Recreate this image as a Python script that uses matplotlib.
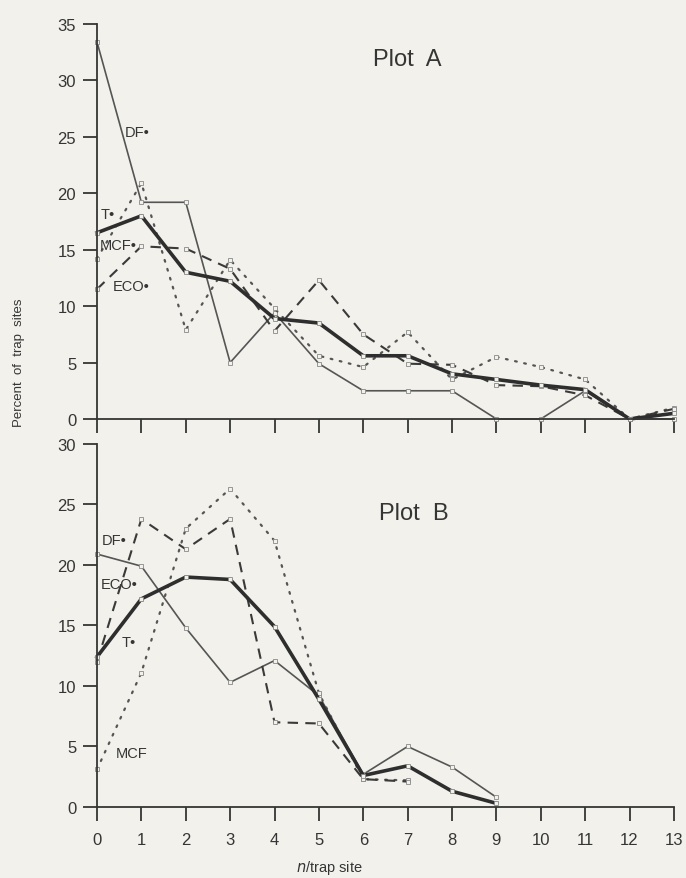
import matplotlib
matplotlib.use('Agg')
import matplotlib.pyplot as plt

plt.rcParams['font.family'] = ['Liberation Sans', 'DejaVu Sans']

x_a = list(range(14))
df_a = [33.4, 19.2, 19.2, 5.0, 9.4, 4.9, 2.5, 2.5, 2.5, 0, 0, 2.5, 0, 0]
t_a = [16.5, 18.0, 13.0, 12.2, 8.9, 8.5, 5.6, 5.6, 4.0, 3.5, 3.0, 2.6, 0, 0.5]
mcf_a = [14.2, 20.9, 7.9, 14.1, 9.8, 5.6, 4.6, 7.7, 3.5, 5.5, 4.6, 3.5, 0, 1.0]
eco_a = [11.5, 15.3, 15.1, 13.3, 7.8, 12.3, 7.5, 4.9, 4.8, 3.0, 2.9, 2.1, 0, 0.9]

x_b = list(range(10))
df_b = [20.9, 19.9, 14.8, 10.3, 12.1, 9.2, 2.7, 5.0, 3.3, 0.8]
t_b = [12.4, 17.2, 19.0, 18.8, 14.9, 8.9, 2.6, 3.4, 1.3, 0.3]
x_b2 = list(range(8))
eco_b = [12.0, 23.8, 21.3, 23.8, 7.0, 6.9, 2.3, 2.1]
mcf_b = [3.1, 11.1, 23.0, 26.3, 22.0, 9.4, 2.3, 2.2]

bg = '#f2f1ec'
ink = '#353535'

fig = plt.figure(figsize=(6.86, 8.79), dpi=100, facecolor=bg)
ax_a = fig.add_axes([0.1414, 0.5222, 0.841, 0.4494])
ax_b = fig.add_axes([0.1414, 0.0808, 0.841, 0.413])


def draw(ax, xs, ys, style):
    ax.plot(xs, ys, clip_on=False, **style)


mk = dict(marker='s', ms=2.2, mfc=bg, mec='#888888', mew=0.6)
thin = dict(color='#555555', lw=1.2, ls='-', **mk)
thick = dict(color='#2e2e2e', lw=2.6, ls='-', **mk)
dotted = dict(color='#555555', lw=1.6, ls=(0, (0.8, 3.4)), dash_capstyle='round', **mk)
dashed = dict(color='#3a3a3a', lw=1.5, ls=(0, (5, 3.5)), **mk)

draw(ax_a, x_a, df_a, thin)
draw(ax_a, x_a, mcf_a, dotted)
draw(ax_a, x_a, eco_a, dashed)
draw(ax_a, x_a, t_a, thick)

draw(ax_b, x_b, df_b, thin)
draw(ax_b, x_b2, mcf_b, dotted)
draw(ax_b, x_b2, eco_b, dashed)
draw(ax_b, x_b, t_b, thick)

for ax, top in ((ax_a, 35), (ax_b, 30)):
    ax.set_facecolor(bg)
    ax.set_xlim(0, 13)
    ax.set_ylim(0, top)
    ax.set_xticks(range(14))
    ax.set_yticks(range(0, top + 1, 5))
    for s in ('top', 'right'):
        ax.spines[s].set_visible(False)
    for s in ('left', 'bottom'):
        ax.spines[s].set_color(ink)
        ax.spines[s].set_linewidth(1.3)
    ax.tick_params(axis='both', direction='out', length=10, width=1.3, color=ink,
                   labelsize=12, labelcolor=ink, pad=5)

ax_a.tick_params(axis='x', labelbottom=False)
ax_b.tick_params(axis='x', pad=8)

lab = dict(fontsize=10.5, color=ink, va='center', ha='left')
ax_a.text(0.63, 25.4, 'DF\u2022', **lab)
ax_a.text(0.09, 18.2, 'T\u2022', **lab)
ax_a.text(0.07, 15.4, 'MCF\u2022', **lab)
ax_a.text(0.36, 11.8, 'ECO\u2022', **lab)
ax_a.text(7.0, 31.9, 'Plot  A', fontsize=17, color=ink, ha='center', va='center')

ax_b.text(0.11, 22.1, 'DF\u2022', **lab)
ax_b.text(0.09, 18.4, 'ECO\u2022', **lab)
ax_b.text(0.56, 13.6, 'T\u2022', **lab)
ax_b.text(0.43, 4.5, 'MCF', **lab)
ax_b.text(7.15, 24.3, 'Plot  B', fontsize=17, color=ink, ha='center', va='center')

fig.text(0.028, 0.587, 'Percent  of  trap  sites', rotation=90, fontsize=9.5,
         color=ink, ha='center', va='center')
fig.text(0.48, 0.002, r'$\it{n}$/trap site', fontsize=10.5, color=ink, ha='center',
         va='bottom')

fig.savefig('out.png', dpi=100, facecolor=bg)
